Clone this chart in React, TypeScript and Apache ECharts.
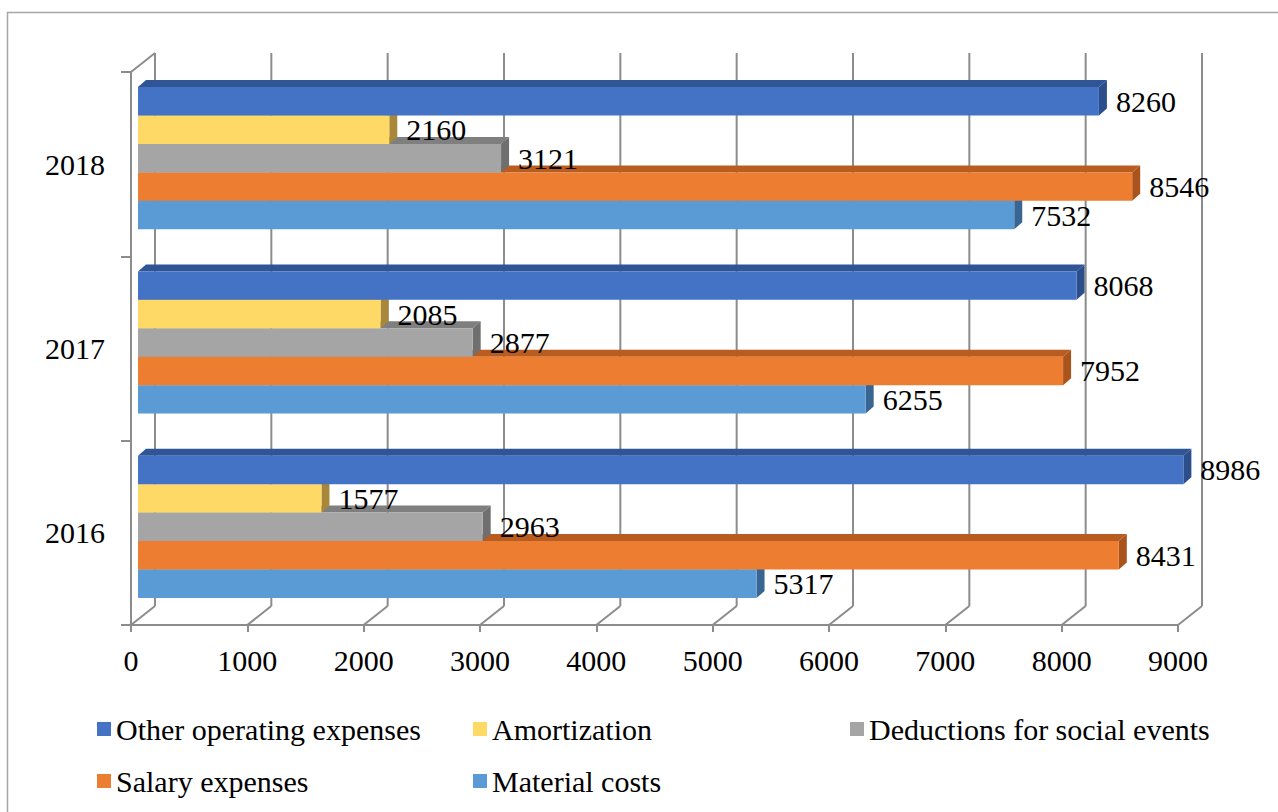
import React, { useEffect, useRef } from "react";
import * as echarts from "echarts";

const years = ["2016", "2017", "2018"];
const xTicks = [0, 1000, 2000, 3000, 4000, 5000, 6000, 7000, 8000, 9000];

// series values per year (2016, 2017, 2018)
const otherOperating = [8986, 8068, 8260];
const amortization = [1577, 2085, 2160];
const deductions = [2963, 2877, 3121];
const salary = [8431, 7952, 8546];
const material = [5317, 6255, 7532];

const names = [
  "Other operating expenses",
  "Amortization",
  "Deductions for social events",
  "Salary expenses",
  "Material costs",
];
const seriesValues = [otherOperating, amortization, deductions, salary, material];
const frontColors = ["#4472C4", "#FFD966", "#A5A5A5", "#ED7D31", "#5B9BD5"];
const topColors = ["#2F5597", "#BF9B3C", "#7F7F7F", "#B95C20", "#3E6FA0"];
const sideColors = ["#2C4F8C", "#A8873A", "#6F6F6F", "#A9531D", "#386591"];

const FONT = "'Liberation Serif', 'Times New Roman', 'DejaVu Serif', serif";
const DX = 24; // wall depth offset
const DY = -19;
const BAR_SHIFT_X = 7;
const BAR_SHIFT_Y = -6;
const BAR_DX = 8;
const BAR_DY = -7;
const GRAY = "#8C8C8C";

export default function App() {
  const ref = useRef<HTMLDivElement>(null);

  useEffect(() => {
    if (!ref.current) return;
    const chart = echarts.init(ref.current, undefined, { renderer: "svg" });

    const wallSeries: any = {
      type: "custom",
      name: "walls",
      clip: false,
      silent: true,
      data: xTicks.map((v) => [v, 0]),
      encode: { x: 0, y: 1 },
      renderItem: (params: any, api: any) => {
        const v = api.value(0);
        const cs = params.coordSys;
        const x = api.coord([v, 0])[0];
        const top = cs.y;
        const bottom = cs.y + cs.height;
        const children: any[] = [
          {
            type: "line",
            shape: { x1: x + DX, y1: top + DY, x2: x + DX, y2: bottom + DY },
            style: { stroke: GRAY, lineWidth: 2 },
          },
          {
            type: "line",
            shape: { x1: x, y1: bottom, x2: x + DX, y2: bottom + DY },
            style: { stroke: GRAY, lineWidth: 2 },
          },
        ];
        if (v === 0) {
          children.push({
            type: "line",
            shape: { x1: x, y1: top, x2: x + DX, y2: top + DY },
            style: { stroke: GRAY, lineWidth: 2 },
          });
        }
        return { type: "group", children };
      },
    };

    const barSeries = names.map((name, slot) => ({
      type: "custom",
      name,
      clip: false,
      itemStyle: { color: frontColors[slot] },
      data: seriesValues[slot].map((v, i) => [v, i]),
      encode: { x: 0, y: 1 },
      renderItem: (params: any, api: any) => {
        const v = api.value(0);
        const c = api.value(1);
        const p0 = api.coord([0, c]);
        const p1 = api.coord([v, c]);
        const band = api.size([0, 1])[1];
        const h = band * 0.1543;
        const center = p0[1] + BAR_SHIFT_Y;
        const yTop = center - 2.5 * h + slot * h;
        const x0 = p0[0] + BAR_SHIFT_X;
        const x1 = p1[0] + BAR_SHIFT_X;
        return {
          type: "group",
          children: [
            {
              type: "polygon",
              shape: {
                points: [
                  [x0, yTop],
                  [x1, yTop],
                  [x1 + BAR_DX, yTop + BAR_DY],
                  [x0 + BAR_DX, yTop + BAR_DY],
                ],
              },
              style: { fill: topColors[slot] },
            },
            {
              type: "polygon",
              shape: {
                points: [
                  [x1, yTop],
                  [x1 + BAR_DX, yTop + BAR_DY],
                  [x1 + BAR_DX, yTop + h + BAR_DY],
                  [x1, yTop + h],
                ],
              },
              style: { fill: sideColors[slot] },
            },
            {
              type: "rect",
              shape: { x: x0, y: yTop, width: x1 - x0, height: h },
              style: { fill: frontColors[slot] },
            },
            {
              type: "text",
              z2: 100,
              style: {
                text: String(v),
                x: x1 + 17,
                y: yTop + h / 2,
                align: "left",
                verticalAlign: "middle",
                fontSize: 30,
                fontFamily: FONT,
                fill: "#000",
              },
            },
          ],
        };
      },
    }));

    // draw bottom bars first so upper bars cover their hidden faces
    const orderedBars = barSeries.slice().reverse();

    const legendCommon = {
      orient: "vertical",
      icon: "rect",
      itemWidth: 14,
      itemHeight: 14,
      itemGap: 22,
      selectedMode: false,
      textStyle: { fontSize: 30, fontFamily: FONT, color: "#000" },
    };

    chart.setOption({
      animation: false,
      backgroundColor: "#fff",
      graphic: [
        {
          type: "rect",
          silent: true,
          shape: { x: 7.5, y: 12.5, width: 1300, height: 820 },
          style: { fill: "none", stroke: "#A6A6A6", lineWidth: 1.5 },
        },
      ],
      grid: { left: 131, right: 100, top: 72, bottom: 187, containLabel: false },
      legend: [
        { ...legendCommon, left: 92, top: 709, data: [names[0], names[3]] },
        { ...legendCommon, left: 468, top: 709, data: [names[1], names[4]] },
        { ...legendCommon, left: 845, top: 709, data: [names[2]] },
      ],
      xAxis: {
        type: "value",
        min: 0,
        max: 9000,
        interval: 1000,
        axisLine: { show: true, lineStyle: { color: GRAY, width: 2 } },
        axisTick: { show: true, length: 7, lineStyle: { color: GRAY, width: 2 } },
        splitLine: { show: false },
        axisLabel: {
          fontSize: 30,
          fontFamily: FONT,
          color: "#000",
          margin: 20,
          formatter: (v: number) => String(v),
        },
      },
      yAxis: {
        type: "category",
        data: years,
        axisLine: { show: true, lineStyle: { color: GRAY, width: 2 } },
        axisTick: { show: true, length: 10, lineStyle: { color: GRAY, width: 2 } },
        splitLine: { show: false },
        axisLabel: { fontSize: 30, fontFamily: FONT, color: "#000", margin: 26 },
      },
      series: [wallSeries, ...orderedBars],
    });

    return () => chart.dispose();
  }, []);

  return (
    <div
      ref={ref}
      style={{ position: "absolute", left: 0, top: 0, width: 1278, height: 812 }}
    />
  );
}
